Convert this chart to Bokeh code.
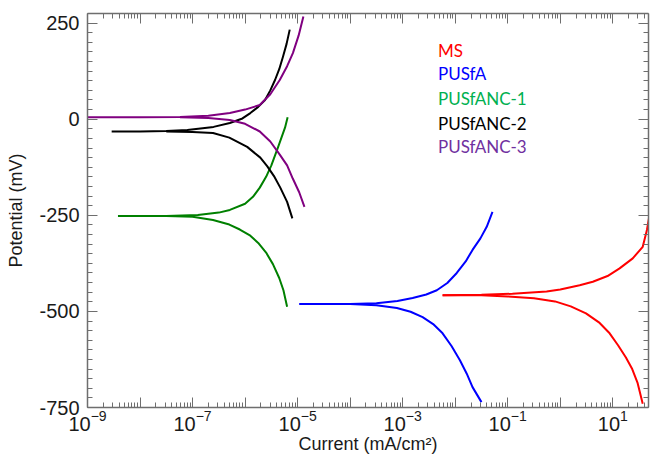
import numpy as np
from bokeh.plotting import figure
from bokeh.models import (Range1d, FixedTicker, LogAxis, LinearAxis, LogTickFormatter,
                          CustomJSTickFormatter, Label, SingleIntervalTicker)
from bokeh.embed import file_html
from bokeh.resources import INLINE

# ---- data: log10(current, mA/cm2) and potential (mV) ----
ms_an_logi = [-2.24, -1.5, -0.91, -0.26, 0.0, 0.37, 0.62, 0.9, 1.13, 1.38, 1.57, 1.65, 1.70]
ms_an_mv = [-458, -457, -454, -448, -443, -432, -423, -408, -388, -362, -332, -288, -249]
ms_ca_logi = [-2.24, -1.5, -1.0, -0.5, -0.1, 0.2, 0.49, 0.75, 0.94, 1.1, 1.25, 1.37, 1.47, 1.57]
ms_ca_mv = [-458, -458, -461, -466, -474, -487, -505, -530, -557, -588, -620, -650, -685, -740]

pusfa_an_logi = [-4.97, -4.0, -3.5, -3.1, -2.81, -2.55, -2.35, -2.15, -1.97, -1.80, -1.67, -1.52, -1.40, -1.29]
pusfa_an_mv = [-481, -481, -479, -473, -465, -456, -445, -426, -400, -370, -340, -310, -280, -241]
pusfa_ca_logi = [-4.0, -3.5, -3.11, -2.85, -2.62, -2.42, -2.24, -2.07, -1.91, -1.78, -1.67, -1.50]
pusfa_ca_mv = [-481, -484, -491, -501, -515, -533, -557, -590, -627, -662, -697, -736]

anc1_an_logi = [-8.42, -7.5, -6.9, -6.5, -6.29, -6.0, -5.85, -5.72, -5.6, -5.5, -5.37, -5.24, -5.19]
anc1_an_mv = [-252, -252, -249, -243, -236, -220, -202, -178, -150, -120, -72, -22, 5]
anc1_ca_logi = [-7.5, -7.0, -6.61, -6.3, -6.1, -5.9, -5.75, -5.6, -5.47, -5.35, -5.27, -5.20]
anc1_ca_mv = [-252, -254, -262, -274, -287, -303, -322, -347, -377, -413, -445, -488]

anc2_an_logi = [-8.54, -8.0, -7.5, -7.1, -6.6, -6.29, -6.05, -5.9, -5.75, -5.62, -5.52, -5.43, -5.35, -5.28, -5.21, -5.15]
anc2_an_mv = [-32, -32, -31, -28, -20, -10, 2, 16, 32, 50, 75, 102, 130, 162, 196, 233]
anc2_ca_logi = [-7.5, -7.0, -6.61, -6.3, -5.96, -5.71, -5.58, -5.45, -5.33, -5.2, -5.1]
anc2_ca_mv = [-32, -33, -36, -48, -72, -100, -122, -148, -178, -215, -258]

anc3_an_logi = [-9.0, -8.0, -7.24, -6.7, -6.29, -6.0, -5.72, -5.52, -5.34, -5.2, -5.09, -4.98, -4.89]
anc3_an_mv = [5, 5, 6, 9, 16, 25, 37, 65, 102, 138, 172, 218, 267]
anc3_ca_logi = [-7.24, -6.7, -6.29, -6.0, -5.72, -5.52, -5.34, -5.2, -5.09, -4.97, -4.87]
anc3_ca_mv = [5, 3, -2, -12, -32, -58, -92, -120, -155, -190, -228]

series_names = ["MS", "PUSfA", "PUSfANC-1", "PUSfANC-2", "PUSfANC-3"]
line_colors = ["#FF0000", "#0000FF", "#008000", "#000000", "#800080"]
legend_colors = ["#FF0000", "#0000FF", "#00B050", "#000000", "#7030A0"]

x_exponents = list(range(-9, 2))
y_ticks_interval = 250

branches = [
    (ms_an_logi, ms_an_mv, ms_ca_logi, ms_ca_mv),
    (pusfa_an_logi, pusfa_an_mv, pusfa_ca_logi, pusfa_ca_mv),
    (anc1_an_logi, anc1_an_mv, anc1_ca_logi, anc1_ca_mv),
    (anc2_an_logi, anc2_an_mv, anc2_ca_logi, anc2_ca_mv),
    (anc3_an_logi, anc3_an_mv, anc3_ca_logi, anc3_ca_mv),
]

p = figure(width=650, height=457, x_axis_type="log",
           x_range=Range1d(1e-9, 10 ** 1.68), y_range=Range1d(-750, 275),
           output_backend="svg", toolbar_location=None,
           min_border_left=87, min_border_right=2, min_border_top=13, min_border_bottom=50)
p.outline_line_color = None
p.xgrid.visible = False
p.ygrid.visible = False
p.background_fill_color = "white"

for (al, am, cl, cm), col in zip(branches, line_colors):
    p.line(10.0 ** np.array(al), am, line_color=col, line_width=2, line_join="round")
    p.line(10.0 ** np.array(cl), cm, line_color=col, line_width=2, line_join="round")

decades = [float(f"1e{e}") for e in x_exponents]
minors = [float(f"{m}e{e}") for e in x_exponents for m in range(2, 10)]
xticker = FixedTicker(ticks=decades, minor_ticks=minors)
yticker = SingleIntervalTicker(interval=y_ticks_interval, num_minor_ticks=10)

axis_col = "#6e6e6e"

def style(ax):
    ax.major_tick_in = 10
    ax.major_tick_out = 0
    ax.minor_tick_in = 5
    ax.minor_tick_out = 0
    ax.axis_line_color = axis_col
    ax.major_tick_line_color = axis_col
    ax.minor_tick_line_color = axis_col
    ax.axis_line_width = 1.5
    ax.major_label_text_font = "Liberation Sans"
    ax.major_label_text_font_size = "20px"
    ax.major_label_text_color = "#1a1a1a"
    ax.axis_label_text_font = "Liberation Sans"
    ax.axis_label_text_font_size = "18px"
    ax.axis_label_text_font_style = "normal"
    ax.axis_label_text_color = "#1a1a1a"

xa = p.xaxis[0]
xa.ticker = xticker
xa.formatter = LogTickFormatter()
xa.major_label_overrides = {float(f"1e{e}"): "" for e in x_exponents if e % 2 == 0}
xa.axis_label = "Current (mA/cm²)"
style(xa)
xa.major_label_standoff = 2
xa.axis_label_standoff = 0

ya = p.yaxis[0]
ya.ticker = yticker
ya.formatter = CustomJSTickFormatter(code="return tick.toString()")
ya.axis_label = "Potential (mV)"
style(ya)
ya.major_label_standoff = 8
ya.axis_label_standoff = 10

top = LogAxis(ticker=xticker, formatter=CustomJSTickFormatter(code="return ''"))
style(top)
top.major_label_standoff = 0
top.major_label_text_font_size = "1px"
p.add_layout(top, "above")

right = LinearAxis(ticker=yticker, formatter=CustomJSTickFormatter(code="return ''"))
style(right)
right.major_label_standoff = 0
right.major_label_text_font_size = "1px"
p.add_layout(right, "right")

legend_y = [180, 120, 55, -10, -72]
for name, col, yy in zip(series_names, legend_colors, legend_y):
    p.add_layout(Label(x=4.7e-3, y=yy, text=name, text_color=col, text_font="Lato",
                       text_font_size="17px", text_baseline="middle", text_align="left"))

open("out.html", "w").write(file_html(p, INLINE))
